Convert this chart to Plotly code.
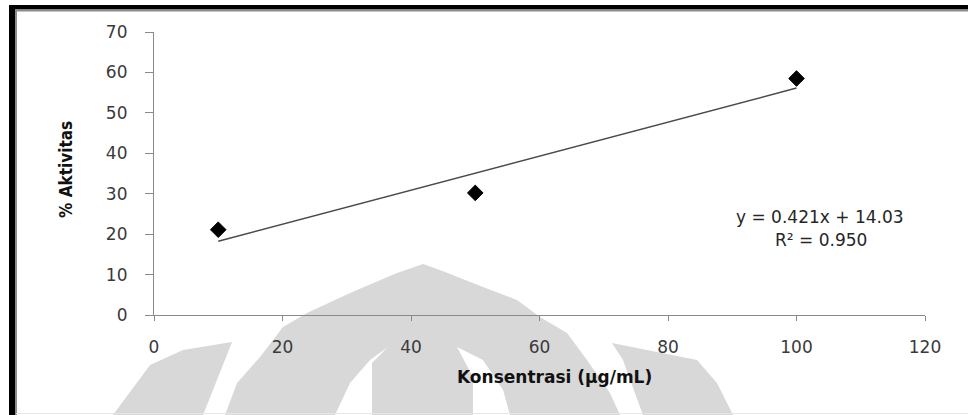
import plotly.graph_objects as go

# Measured activity at each concentration
konsentrasi = [10, 50, 100]
aktivitas = [21.1, 30.2, 58.5]

# Linear trend line reported for the series
slope = 0.421
intercept = 14.03
r_squared = 0.950

x_ticks = [0, 20, 40, 60, 80, 100, 120]
y_ticks = [0, 10, 20, 30, 40, 50, 60, 70]

W, H = 968, 415
ML, MR, MT, MB = 154, 43, 32, 100
PLOT_W = W - ML - MR
PLOT_H = H - MT - MB


def px(x):
    return (x - ML) / PLOT_W


def py(y):
    return (H - MB - y) / PLOT_H


def poly(points):
    return "M " + " L ".join(f"{px(x):.4f},{py(y):.4f}" for x, y in points) + " Z"


trend_x = [min(konsentrasi), max(konsentrasi)]
trend_y = [slope * v + intercept for v in trend_x]

fig = go.Figure()
fig.add_trace(go.Scatter(
    x=trend_x, y=trend_y, mode="lines",
    line=dict(color="#4a4a4a", width=1.5),
    hoverinfo="skip", showlegend=False,
))
fig.add_trace(go.Scatter(
    x=konsentrasi, y=aktivitas, mode="markers",
    marker=dict(symbol="diamond", size=12, color="black",
                line=dict(color="black", width=1)),
    showlegend=False,
))

gray = "rgb(216,216,216)"
shapes = []
# Faint emblem in the page background
for pts, col in [
    ([(113, 415), (130, 392), (150, 365), (183, 350), (232, 342), (203, 415)], gray),
    ([(225, 415), (237, 383), (260, 357), (283, 327), (307, 313), (350, 293),
      (397, 273), (423, 264), (440, 270), (483, 287), (517, 300), (540, 317),
      (567, 333), (587, 360), (610, 393), (620, 415)], gray),
    ([(612, 343), (697, 360), (717, 383), (733, 415), (643, 415), (623, 360)], gray),
    ([(335, 415), (350, 383), (370, 360), (388, 347), (372, 363), (372, 415)], "white"),
    ([(457, 347), (483, 360), (503, 390), (510, 415), (473, 415), (473, 377)], "white"),
]:
    shapes.append(dict(type="path", path=poly(pts), xref="paper", yref="paper",
                       fillcolor=col, line=dict(width=0), layer="below"))

# Page frame: heavy top and left edges with a thin inner rule
shapes += [
    dict(type="rect", xref="paper", yref="paper", x0=px(9), x1=px(975),
         y0=py(5), y1=py(9.5), fillcolor="black", line=dict(width=0)),
    dict(type="rect", xref="paper", yref="paper", x0=px(9), x1=px(15),
         y0=py(5), y1=py(416), fillcolor="black", line=dict(width=0)),
    dict(type="line", xref="paper", yref="paper", x0=px(15), x1=px(975),
         y0=py(10.5), y1=py(10.5), line=dict(color="#8c8c8c", width=2)),
    dict(type="line", xref="paper", yref="paper", x0=px(16), x1=px(16),
         y0=py(10), y1=py(416), line=dict(color="#8c8c8c", width=2)),
    dict(type="line", xref="paper", yref="paper", x0=px(16), x1=px(975),
         y0=py(413.5), y1=py(413.5), line=dict(color="#e6e6e6", width=1)),
]

tick_font = dict(family="DejaVu Sans", size=17, color="#3a3a3a")
narrow = "DejaVu Sans Condensed, Liberation Sans Narrow, Arial Narrow, Roboto, sans-serif"

fig.update_layout(
    width=W, height=H,
    margin=dict(l=ML, r=MR, t=MT, b=MB, pad=0),
    paper_bgcolor="white",
    plot_bgcolor="rgba(0,0,0,0)",
    shapes=shapes,
    xaxis=dict(
        range=[0, 120], tickvals=x_ticks, ticktext=[str(v) for v in x_ticks],
        showline=True, linecolor="#8a8a8a", linewidth=1.2,
        ticks="outside", ticklen=5, tickcolor="#8a8a8a", tickwidth=1.2,
        showgrid=False, zeroline=False, tickfont=tick_font,
        ticklabelstandoff=11,
    ),
    yaxis=dict(
        range=[0, 70], tickvals=y_ticks, ticktext=[str(v) for v in y_ticks],
        showline=True, linecolor="#8a8a8a", linewidth=1.2,
        ticks="outside", ticklen=8, tickcolor="#8a8a8a", tickwidth=1.2,
        showgrid=False, zeroline=False, tickfont=tick_font,
        ticklabelstandoff=14,
    ),
    annotations=[
        dict(text="<b>Konsentrasi (µg/mL)</b>", xref="paper", yref="paper",
             x=px(554), y=py(377), showarrow=False, xanchor="center", yanchor="middle",
             font=dict(family="DejaVu Sans", size=17, color="#111111")),
        dict(text="<b>% Aktivitas</b>", xref="paper", yref="paper",
             x=px(66), y=py(170), showarrow=False, textangle=-90,
             xanchor="center", yanchor="middle",
             font=dict(family=narrow, size=17, color="#111111")),
        dict(text=f"y = {slope:.3f}x + {intercept:.2f}", xref="paper", yref="paper",
             x=px(820), y=py(217), showarrow=False, xanchor="center", yanchor="middle",
             font=dict(family="DejaVu Sans", size=17, color="#262626")),
        dict(text=f"R² = {r_squared:.3f}", xref="paper", yref="paper",
             x=px(821), y=py(240), showarrow=False, xanchor="center", yanchor="middle",
             font=dict(family="DejaVu Sans", size=17, color="#262626")),
    ],
)

fig.write_html("out.html")
